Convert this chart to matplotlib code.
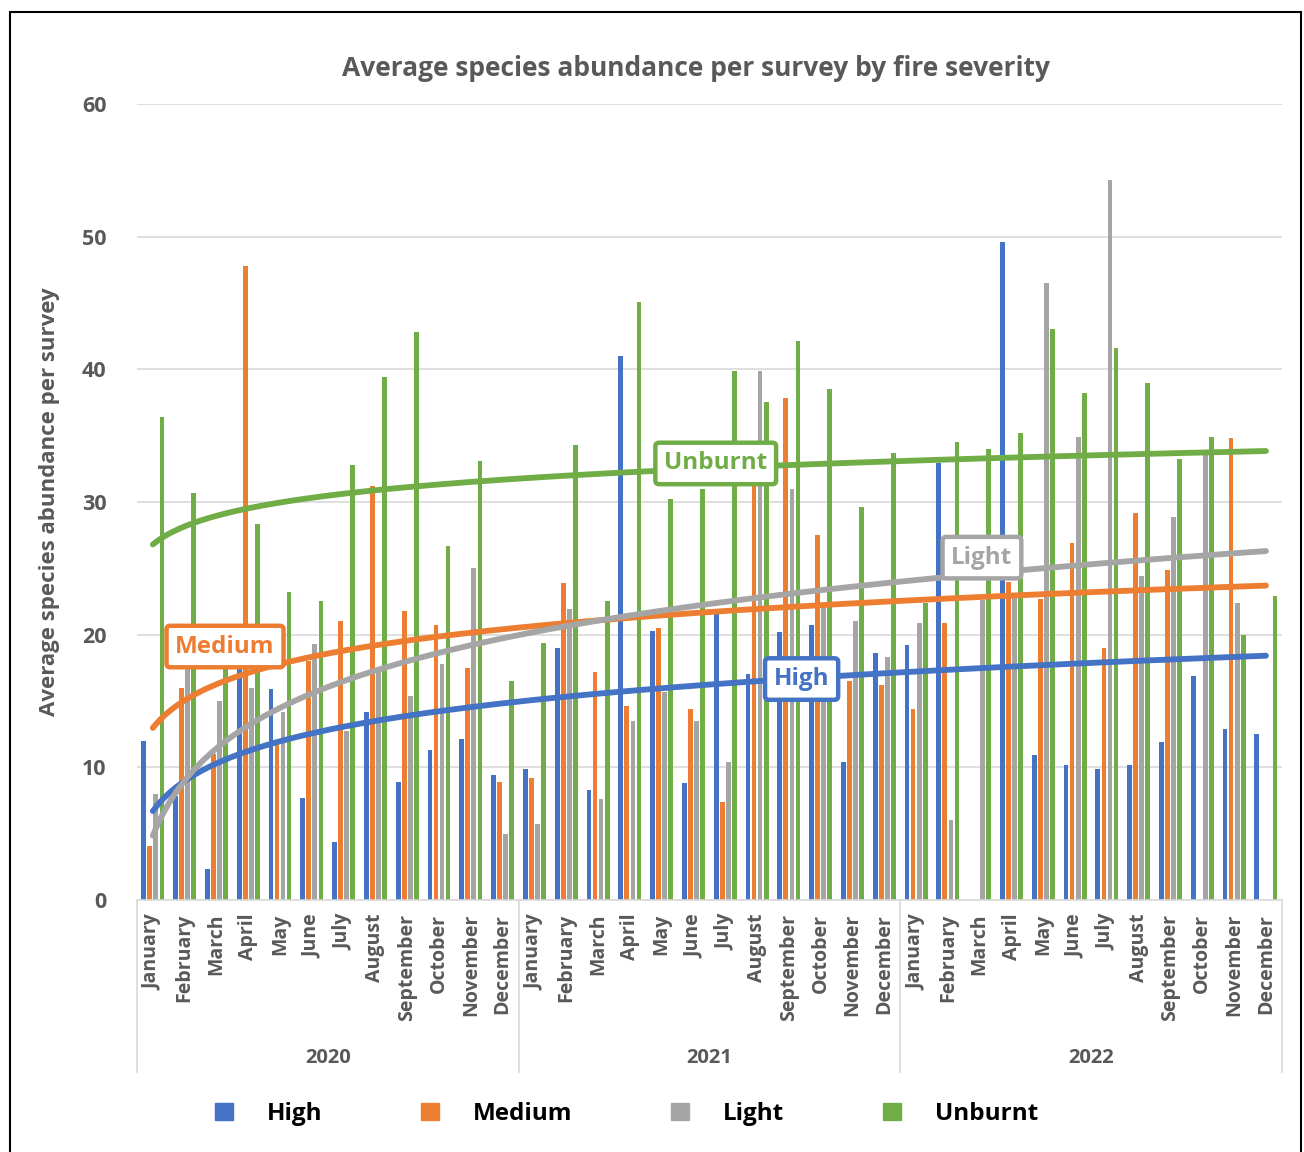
import numpy as np
import matplotlib.pyplot as plt
import matplotlib.patches as mpatches
from matplotlib.lines import Line2D

MONTHS = ["January", "February", "March", "April", "May", "June", "July",
          "August", "September", "October", "November", "December"]
YEARS = ["2020", "2021", "2022"]

# average abundance per survey, Jan 2020 .. Dec 2022 (nan = no survey)
HIGH = [12.0, 7.8, 2.3, 17.6, 15.9, 7.7, 4.4, 14.2, 8.9, 11.3, 12.1, 9.4,
        9.9, 19.0, 8.3, 41.0, 20.3, 8.8, 21.6, 17.0, 20.2, 20.7, 10.4, 18.6,
        19.2, 32.9, np.nan, 49.6, 10.9, 10.2, 9.9, 10.2, 11.9, 16.9, 12.9, 12.5]
MEDIUM = [4.1, 16.0, 11.0, 47.8, 11.9, 18.0, 21.0, 31.2, 21.8, 20.7, 17.5, 8.9,
          9.2, 23.9, 17.2, 14.6, 20.5, 14.4, 7.4, 31.4, 37.8, 27.5, 16.5, 16.2,
          14.4, 20.9, np.nan, 24.0, 22.7, 26.9, 19.0, 29.2, 24.9, np.nan, 34.8, np.nan]
LIGHT = [8.0, 17.4, 15.0, 16.0, 14.2, 19.3, 12.7, 17.3, 15.4, 17.8, 25.0, 5.0,
         5.7, 21.9, 7.6, 13.5, 15.7, 13.5, 10.4, 39.9, 31.0, 22.1, 21.0, 18.3,
         20.9, 6.0, 22.6, 22.9, 46.5, 34.9, 54.3, 24.4, 28.9, 33.6, 22.4, np.nan]
UNBURNT = [36.4, 30.7, 17.6, 28.3, 23.2, 22.5, 32.8, 39.4, 42.8, 26.7, 33.1, 16.5,
           19.4, 34.3, 22.5, 45.1, 30.2, 31.0, 39.9, 37.5, 42.1, 38.5, 29.6, 33.7,
           22.4, 34.5, 34.0, 35.2, 43.0, 38.2, 41.6, 39.0, 33.2, 34.9, 20.0, 22.9]

SERIES = [("High", HIGH, "#4472C4"), ("Medium", MEDIUM, "#ED7D31"),
          ("Light", LIGHT, "#A5A5A5"), ("Unburnt", UNBURNT, "#70AD47")]
# where each trendline gets its name tag (month index, value)
TAG_POS = {"High": (20.4, 16.65), "Medium": (2.27, 19.1),
           "Light": (26.07, 25.8), "Unburnt": (17.7, 32.9)}

TXT = "#595959"
plt.rcParams["font.family"] = ["Open Sans", "DejaVu Sans"]
plt.rcParams["font.weight"] = "bold"

fig = plt.figure(figsize=(13.04, 11.52), dpi=100)
ax = fig.add_axes([0.105, 0.2188, 0.878, 0.691])

n = len(HIGH)
x = np.arange(n)
width = 0.15
offsets = [-0.285, -0.095, 0.095, 0.285]

for (name, vals, color), off in zip(SERIES, offsets):
    ax.bar(x + off, vals, width=width, color=color, zorder=2)

# logarithmic trendlines, Excel-style on x = 1..n
xs = np.linspace(1, n, 300)
for name, vals, color in SERIES:
    v = np.array(vals, dtype=float)
    ok = ~np.isnan(v)
    k, b = np.polyfit(np.log(x[ok] + 1), v[ok], 1)
    ax.plot(xs - 1, k * np.log(xs) + b, color=color, lw=4.2,
            solid_capstyle="round", zorder=3)
    tx, ty = TAG_POS[name]
    ax.text(tx, ty, name, color=color, fontsize=17.5, fontweight="bold",
            ha="center", va="center", zorder=5,
            bbox=dict(boxstyle="round,pad=0.36,rounding_size=0.15",
                      fc="white", ec=color, lw=3.2))

ax.set_xlim(-0.5, n - 0.5)
ax.set_ylim(0, 60)
ax.set_yticks(range(0, 61, 10))
ax.tick_params(axis="y", length=0, labelsize=15.5, labelcolor=TXT, pad=22)
ax.grid(True, axis="y", color="#D9D9D9", lw=1.2, zorder=0)
for s in ["top", "right", "left"]:
    ax.spines[s].set_visible(False)
ax.spines["bottom"].set_color("#D9D9D9")
ax.spines["bottom"].set_linewidth(1.2)

ax.set_xticks(x)
ax.set_xticklabels(MONTHS * len(YEARS), rotation=90, fontsize=14, color=TXT)
ax.tick_params(axis="x", length=0, pad=10)

# year groups below the month labels
trans = ax.get_xaxis_transform()
for i, yr in enumerate(YEARS):
    ax.text(12 * i + 5.5, -0.198, yr, transform=trans, ha="center", va="center",
            fontsize=14.5, color=TXT, fontweight="bold")
for b in range(len(YEARS) + 1):
    ax.add_line(Line2D([12 * b - 0.5] * 2, [0, -0.216], transform=trans,
                       color="#D9D9D9", lw=1.2, clip_on=False))

ax.set_ylabel("Average species abundance per survey", fontsize=16,
              color=TXT, fontweight="bold")
ax.yaxis.set_label_coords(-0.067, 0.5)
ax.set_title("Average species abundance per survey by fire severity",
             fontsize=19, color=TXT, fontweight="bold", pad=20, x=0.4886)

handles = [mpatches.Patch(color=c, label=nm) for nm, _, c in SERIES]
fig.legend(handles=handles, loc="center", bbox_to_anchor=(0.4805, 0.033),
           ncol=4, frameon=False, handlelength=0.75, handleheight=0.75,
           handletextpad=1.4, columnspacing=4.05,
           prop={"weight": "bold", "size": 17.5})

fig.patches.append(mpatches.Rectangle((0.008, -0.01), 0.99, 1.0, fill=False,
                                      ec="black", lw=1.5,
                                      transform=fig.transFigure))

fig.savefig("out.png", dpi=100)
